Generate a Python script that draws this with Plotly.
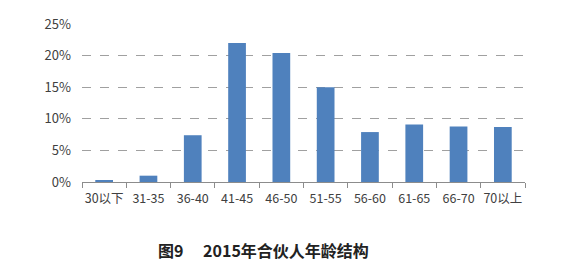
import plotly.graph_objects as go

categories = ["30以下", "31-35", "36-40", "41-45", "46-50", "51-55", "56-60", "61-65", "66-70", "70以上"]
shares = [0.002, 0.010, 0.074, 0.220, 0.204, 0.150, 0.079, 0.091, 0.088, 0.087]
y_ticks = [0, 0.05, 0.10, 0.15, 0.20, 0.25]
y_tick_labels = ["0%", "5%", "10%", "15%", "20%", "25%"]
title_text = "图9\u3000 2015年合伙人年龄结构"

fig = go.Figure(go.Bar(x=categories, y=shares, marker=dict(color="#4F81BD", line=dict(width=0))))

fig.update_layout(
    width=566, height=273,
    margin=dict(l=82, r=41, t=24, b=91),
    paper_bgcolor="white", plot_bgcolor="white",
    bargap=0.6,
    showlegend=False,
    font=dict(family="Noto Sans CJK SC, DejaVu Sans", color="#404040", size=13),
)
fig.update_yaxes(
    range=[0, 0.25], tickvals=y_ticks, ticktext=y_tick_labels,
    showgrid=True, gridcolor="#A0A0A0", griddash="dash", gridwidth=1,
    zeroline=False, showline=False, ticks="", ticklabelstandoff=10,
    tickfont=dict(size=13, color="#404040"),
)
fig.update_xaxes(
    showline=True, linecolor="#8C8C8C", linewidth=1,
    ticks="outside", tickson="boundaries", ticklen=5, tickcolor="#8C8C8C",
    tickangle=0, ticklabelstandoff=5,
    tickfont=dict(size=12.5, color="#404040"),
    showgrid=False,
)
fig.add_annotation(
    text="<b>" + title_text + "</b>", xref="paper", yref="paper",
    x=0.41, y=-0.43, xanchor="center", yanchor="middle", showarrow=False,
    font=dict(size=16, color="#222222", family="Noto Sans CJK SC"),
)
fig.write_html("out.html")
